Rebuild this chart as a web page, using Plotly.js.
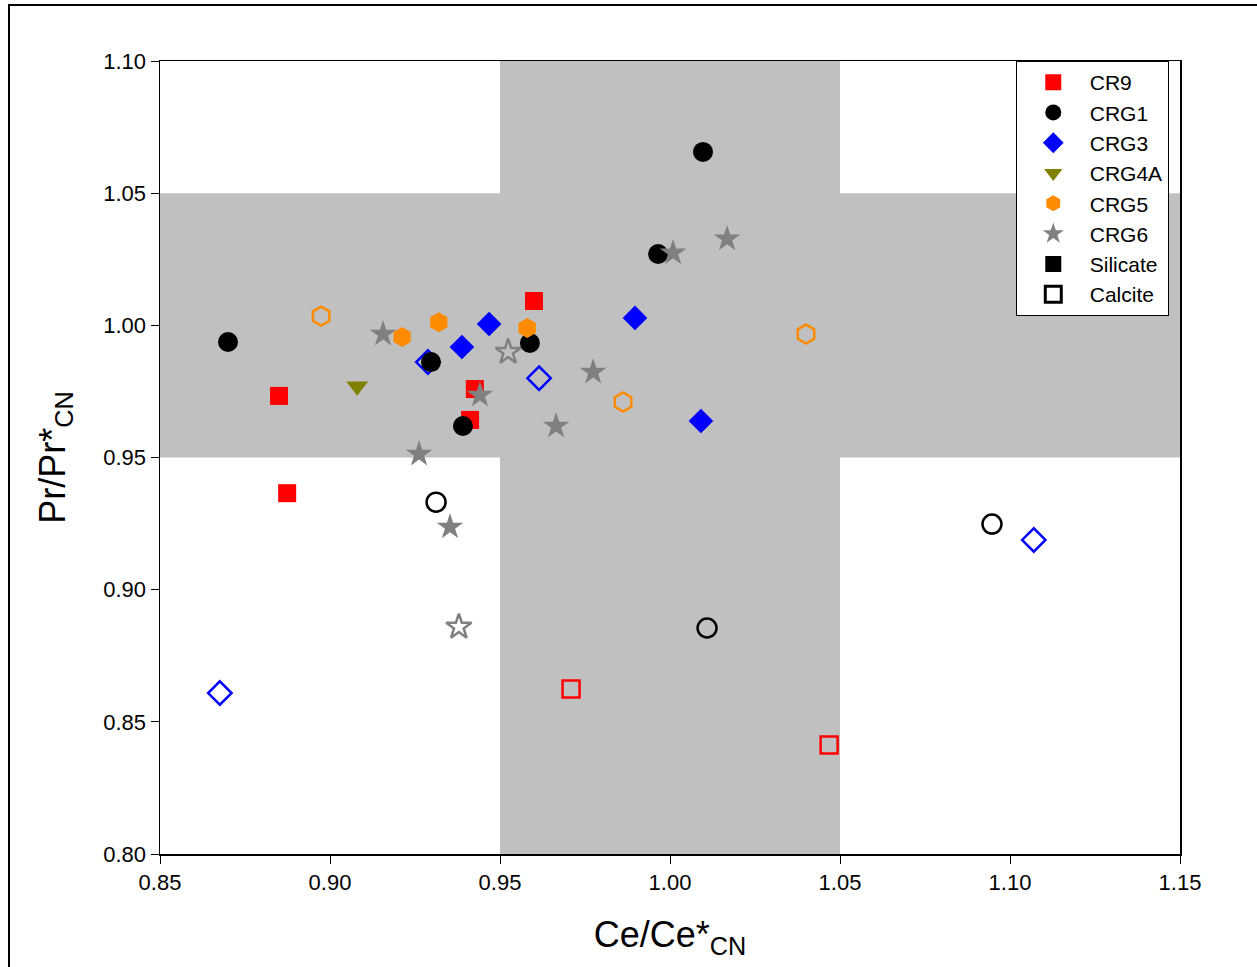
<!DOCTYPE html>
<html>
<head>
<meta charset="utf-8">
<script src="https://cdn.plot.ly/plotly-3.0.1.min.js"></script>
<style>
html,body{margin:0;padding:0;background:#fff;overflow:hidden;}
#chart{width:1257px;height:967px;}
#frame{position:absolute;left:8px;top:4px;width:1300px;height:1000px;border:2px solid #000;pointer-events:none;box-sizing:border-box;}
</style>
</head>
<body>
<div id="chart"></div>
<div id="frame"></div>
<script>
// Series names
const seriesNames = ["CR9", "CRG1", "CRG3", "CRG4A", "CRG5", "CRG6"];

// Silicate (filled) values
const cr9SilX = [0.885, 0.8874, 0.960, 0.9426, 0.9412];
const cr9SilY = [0.9733, 0.9365, 1.0092, 0.9759, 0.9642];
const crg1SilX = [0.870, 0.9297, 0.9391, 0.9588, 0.9965, 1.0097];
const crg1SilY = [0.9937, 0.9861, 0.9619, 0.9933, 1.0270, 1.0656];
const crg3SilX = [0.9388, 0.9468, 0.9897, 1.0091];
const crg3SilY = [0.9918, 1.0005, 1.0028, 0.9638];
const crg4aSilX = [0.908];
const crg4aSilY = [0.977];
const crg5SilX = [0.9212, 0.932, 0.958];
const crg5SilY = [0.9956, 1.0012, 0.999];
const crg6SilX = [0.9156, 0.9441, 0.9262, 0.9353, 0.9665, 0.9774, 1.0009, 1.0168];
const crg6SilY = [0.9967, 0.9736, 0.9513, 0.9237, 0.9619, 0.9823, 1.0274, 1.0327];

// Calcite (open) values
const cr9CalX = [0.9709, 1.0468];
const cr9CalY = [0.8624, 0.8412];
const crg1CalX = [0.9312, 1.0109, 1.0947];
const crg1CalY = [0.9331, 0.8855, 0.9248];
const crg3CalX = [0.9288, 0.9615, 0.8676, 1.107];
const crg3CalY = [0.9861, 0.980, 0.8609, 0.9188];
const crg5CalX = [0.8974, 0.9862, 1.040];
const crg5CalY = [1.0035, 0.971, 0.9967];
const crg6CalX = [0.9524, 0.9379];
const crg6CalY = [0.9899, 0.8859];

// Shaded reference bands
const bandX = [0.95, 1.05];
const bandY = [0.95, 1.05];
const xRange = [0.85, 1.15];
const yRange = [0.80, 1.10];
const tickVals = [0.80, 0.85, 0.90, 0.95, 1.00, 1.05, 1.10, 1.15];

const colors = {CR9:'#FF0000', CRG1:'#000000', CRG3:'#0000FF', CRG4A:'#808000', CRG5:'#FF8C00', CRG6:'#808080'};
const symbols = {CR9:'square', CRG1:'circle', CRG3:'diamond', CRG4A:'triangle-down', CRG5:'hexagon', CRG6:'star'};
const sizes = {CR9:18, CRG1:20, CRG3:19, CRG4A:19, CRG5:20, CRG6:20};

const sil = {CR9:[cr9SilX,cr9SilY], CRG1:[crg1SilX,crg1SilY], CRG3:[crg3SilX,crg3SilY], CRG4A:[crg4aSilX,crg4aSilY], CRG5:[crg5SilX,crg5SilY], CRG6:[crg6SilX,crg6SilY]};
const cal = {CR9:[cr9CalX,cr9CalY], CRG1:[crg1CalX,crg1CalY], CRG3:[crg3CalX,crg3CalY], CRG5:[crg5CalX,crg5CalY], CRG6:[crg6CalX,crg6CalY]};

const traces = [];
// Calcite first (drawn below), no legend
seriesNames.forEach(n => {
  if (!cal[n]) return;
  traces.push({
    type:'scatter', mode:'markers', x:cal[n][0], y:cal[n][1], name:n+' calcite', showlegend:false,
    marker:{symbol:symbols[n]+'-open', size:sizes[n]-1, color:colors[n], line:{width:2.5, color:colors[n]}}
  });
});
seriesNames.forEach((n,i) => {
  traces.push({
    type:'scatter', mode:'markers', x:sil[n][0], y:sil[n][1], name:n, legendrank:i+1,
    marker:{symbol:symbols[n], size:sizes[n], color:colors[n], line:{width:0}}
  });
});
traces.push({type:'scatter', mode:'markers', x:[null], y:[null], name:'Silicate', legendrank:7,
  marker:{symbol:'square', size:18, color:'#000000', line:{width:0}}});
traces.push({type:'scatter', mode:'markers', x:[null], y:[null], name:'Calcite', legendrank:8,
  marker:{symbol:'square-open', size:17, color:'#000000', line:{width:3, color:'#000000'}}});

const font = 'Arial, "Liberation Sans", sans-serif';
const layout = {
  width:1257, height:967,
  margin:{l:160, r:77, t:61, b:113},
  paper_bgcolor:'#ffffff', plot_bgcolor:'#ffffff',
  font:{family:font, color:'#000000', size:22},
  showlegend:true,
  legend:{x:0.839, y:1.0, xanchor:'left', yanchor:'top', bgcolor:'#ffffff', bordercolor:'#000000', borderwidth:1,
    font:{family:font, size:21, color:'#000000'}, itemwidth:63, traceorder:'normal'},
  xaxis:{range:xRange, tickvals:tickVals, tickformat:'.2f', ticks:'outside', ticklen:8, tickwidth:1, tickcolor:'#000',
    showline:true, linecolor:'#000', linewidth:1.5, mirror:true, showgrid:false, zeroline:false,
    tickfont:{family:font, size:22},
    title:{text:'Ce/Ce*<sub>CN</sub>', font:{family:font, size:36}, standoff:28}},
  yaxis:{range:yRange, tickvals:tickVals, tickformat:'.2f', ticks:'outside', ticklen:8, tickwidth:1, tickcolor:'#000',
    showline:true, linecolor:'#000', linewidth:1.5, mirror:true, showgrid:false, zeroline:false,
    tickfont:{family:font, size:22},
    title:{text:'Pr/Pr*<sub>CN</sub>', font:{family:font, size:36}, standoff:26}},
  shapes:[
    {type:'rect', xref:'x', yref:'y', x0:bandX[0], x1:bandX[1], y0:yRange[0], y1:yRange[1], fillcolor:'#C0C0C0', line:{width:0}, layer:'below'},
    {type:'rect', xref:'x', yref:'y', x0:xRange[0], x1:xRange[1], y0:bandY[0], y1:bandY[1], fillcolor:'#C0C0C0', line:{width:0}, layer:'below'}
  ]
};
Plotly.newPlot('chart', traces, layout, {displayModeBar:false, staticPlot:true});
</script>
</body>
</html>
